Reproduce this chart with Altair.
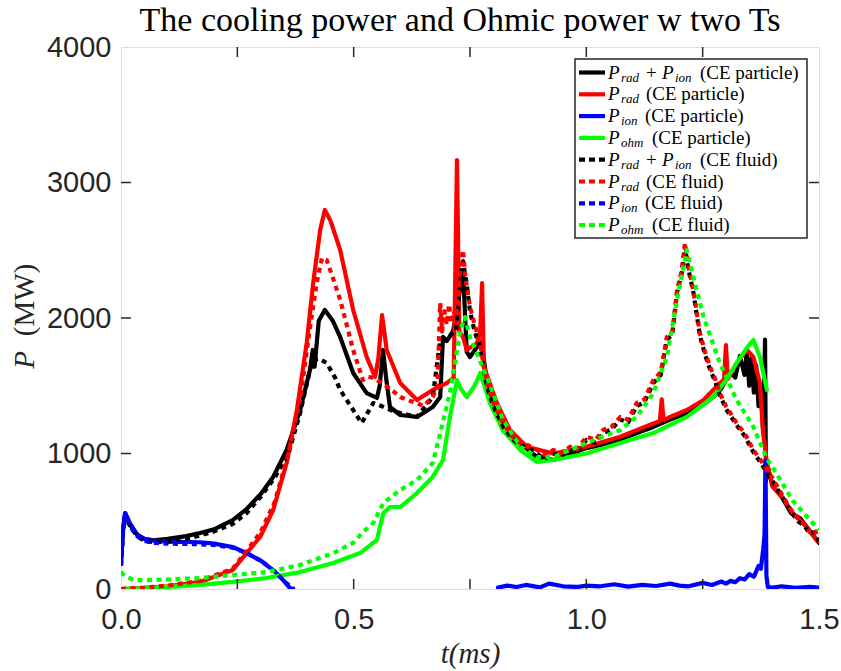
import altair as alt
import pandas as pd

# ---------------- data ----------------
# P_rad + P_ion (CE particle) - black solid
bs_t = [0, 0.004, 0.009, 0.02, 0.035, 0.05, 0.07, 0.1, 0.14, 0.17, 0.2, 0.24, 0.27, 0.3, 0.327, 0.356,
        0.385, 0.406, 0.412, 0.416, 0.425, 0.438, 0.455, 0.471, 0.499, 0.528, 0.55, 0.556, 0.563, 0.57,
        0.578, 0.6, 0.636, 0.67, 0.686, 0.692, 0.70, 0.71, 0.714, 0.722, 0.728, 0.735, 0.743, 0.75,
        0.765, 0.775, 0.785, 0.80, 0.82, 0.858, 0.894, 0.93, 0.96, 1.0, 1.04, 1.07, 1.1, 1.144, 1.18,
        1.216, 1.25, 1.273, 1.29, 1.309, 1.32, 1.33, 1.34, 1.345, 1.35, 1.355, 1.36, 1.365, 1.37,
        1.375, 1.38, 1.384, 1.386, 1.39, 1.40, 1.42, 1.44, 1.46, 1.48, 1.5]
bs_P = [200, 420, 560, 470, 400, 370, 360, 370, 390, 413, 440, 509, 590, 700, 827, 1026,
        1321, 1616, 1764, 1640, 1980, 2059, 1980, 1860, 1594, 1446, 1410, 1500, 1764, 1550,
        1343, 1284, 1270, 1343, 1417, 1860, 1830, 1880, 1911, 2050, 2200, 2350, 1750, 1712,
        1786, 1815, 1565, 1350, 1225, 1077, 974, 952, 990, 1040, 1070, 1100, 1140, 1196, 1250,
        1299, 1360, 1417, 1480, 1600, 1560, 1720, 1580, 1760, 1500, 1700, 1450, 1650, 1350,
        1500, 1150, 1840, 800, 900, 760, 680, 560, 520, 430, 340]

# P_rad (CE particle) - red solid
rs_t = [0, 0.05, 0.1, 0.17, 0.24, 0.27, 0.299, 0.327, 0.356, 0.378, 0.399, 0.413, 0.428, 0.438, 0.45,
        0.471, 0.499, 0.528, 0.546, 0.553, 0.561, 0.571, 0.6, 0.636, 0.67, 0.7, 0.715, 0.722, 0.727,
        0.735, 0.743, 0.765, 0.772, 0.776, 0.78, 0.808, 0.836, 0.872, 0.929, 1.0, 1.073, 1.144,
        1.158, 1.162, 1.166, 1.18, 1.216, 1.252, 1.287, 1.296, 1.30, 1.304, 1.323, 1.345, 1.359,
        1.373, 1.38, 1.388, 1.401, 1.42, 1.444, 1.47, 1.495, 1.5]
rs_P = [0, 8, 20, 52, 140, 265, 384, 583, 930, 1321, 1815, 2258, 2650, 2797, 2720,
        2502, 2059, 1712, 1565, 1700, 2022, 1764, 1520, 1395, 1469, 1520, 1560, 3166, 1900,
        1860, 1764, 1815, 1900, 2258, 1638, 1372, 1173, 1050, 1000, 1050, 1124, 1222,
        1240, 1400, 1245, 1270, 1321, 1395, 1520, 1545, 1800, 1550, 1668, 1764, 1712,
        1520, 1151, 930, 753, 680, 560, 470, 360, 350]

# P_ion (CE particle) - blue solid (None = gap)
bls_t = [0, 0.004, 0.009, 0.02, 0.035, 0.05, 0.062, 0.1, 0.17, 0.2, 0.24, 0.27, 0.3, 0.313, 0.33,
         0.342, 0.355, 0.363, 0.37, 0.375, 0.81, 0.83, 0.85, 0.87, 0.9, 0.92, 0.95, 0.98, 1.0, 1.03,
         1.06, 1.09, 1.12, 1.15, 1.18, 1.2, 1.22, 1.25, 1.27, 1.29, 1.3, 1.31, 1.32, 1.33, 1.34,
         1.35, 1.36, 1.37, 1.375, 1.38, 1.383, 1.385, 1.387, 1.39, 1.40, 1.42, 1.45, 1.48, 1.5]
bls_P = [190, 430, 560, 480, 400, 370, 360, 350, 345, 335, 310, 265, 210, 177, 130,
         89, 40, 7, 0, None, 10, 25, 15, 30, 12, 40, 20, 15, 25, 20,
         35, 18, 30, 22, 40, 25, 20, 45, 30, 55, 40, 60, 50, 80, 70,
         110, 90, 170, 150, 290, 400, 950, 100, 15, 10, 20, 8, 15, 10]

# P_ohm (CE particle) - green solid
gs_t = [0, 0.1, 0.17, 0.24, 0.313, 0.385, 0.456, 0.514, 0.55, 0.558, 0.564, 0.578, 0.6, 0.636, 0.67,
        0.692, 0.707, 0.722, 0.73, 0.743, 0.76, 0.772, 0.793, 0.82, 0.858, 0.894, 0.929, 1.0, 1.073,
        1.144, 1.216, 1.273, 1.3, 1.323, 1.345, 1.359, 1.373, 1.388]
gs_P = [0, 15, 30, 52, 81, 125, 192, 265, 362, 480, 561, 605, 605, 708, 827,
        952, 1270, 1542, 1480, 1417, 1500, 1594, 1372, 1173, 1026, 937, 952, 1000, 1077,
        1151, 1270, 1417, 1540, 1668, 1780, 1838, 1712, 1469]

# P_rad + P_ion (CE fluid) - black dotted
bd_t = [0, 0.004, 0.009, 0.02, 0.035, 0.05, 0.07, 0.1, 0.14, 0.17, 0.2, 0.24, 0.27, 0.3, 0.33, 0.36,
        0.385, 0.405, 0.413, 0.425, 0.442, 0.46, 0.471, 0.499, 0.517, 0.53, 0.542, 0.56, 0.58, 0.6,
        0.636, 0.67, 0.686, 0.70, 0.71, 0.72, 0.73, 0.735, 0.743, 0.75, 0.76, 0.77, 0.786, 0.80,
        0.821, 0.84, 0.858, 0.875, 0.894, 0.91, 0.929, 0.945, 0.965, 0.98, 1.0, 1.02, 1.036, 1.055,
        1.073, 1.09, 1.108, 1.125, 1.144, 1.16, 1.173, 1.185, 1.195, 1.205, 1.212, 1.218, 1.23,
        1.244, 1.255, 1.266, 1.277, 1.287, 1.3, 1.323, 1.34, 1.359, 1.375, 1.388, 1.40, 1.41, 1.42,
        1.43, 1.444, 1.455, 1.47, 1.48, 1.49, 1.5]
bd_P = [170, 400, 540, 460, 390, 355, 345, 350, 370, 395, 425, 480, 560, 680, 820, 1000,
        1300, 1600, 1690, 1700, 1668, 1560, 1469, 1321, 1225, 1300, 1372, 1350, 1320, 1299,
        1270, 1417, 1838, 1850, 1880, 1900, 2300, 2420, 2250, 2050, 1900, 1800, 1500, 1350,
        1200, 1110, 1060, 1040, 1000, 960, 1000, 980, 1030, 1010, 1100, 1080, 1150, 1180,
        1250, 1230, 1350, 1380, 1520, 1580, 1840, 1880, 2190, 2330, 2530, 2380, 2190,
        1870, 1730, 1620, 1530, 1430, 1330, 1210, 1130, 1010, 930, 860, 800, 740, 690,
        620, 550, 500, 460, 410, 420, 350]

# P_rad (CE fluid) - red dotted
rd_t = [0, 0.05, 0.1, 0.17, 0.24, 0.27, 0.3, 0.33, 0.36, 0.385, 0.405, 0.42, 0.432, 0.442, 0.455,
        0.471, 0.485, 0.499, 0.52, 0.53, 0.542, 0.56, 0.578, 0.6, 0.62, 0.636, 0.65, 0.67, 0.68,
        0.686, 0.69, 0.695, 0.70, 0.705, 0.71, 0.715, 0.72, 0.725, 0.73, 0.735, 0.74, 0.75, 0.76,
        0.77, 0.786, 0.80, 0.821, 0.84, 0.858, 0.875, 0.894, 0.91, 0.929, 0.945, 0.965, 0.98, 1.0,
        1.02, 1.036, 1.055, 1.073, 1.09, 1.108, 1.125, 1.144, 1.16, 1.173, 1.185, 1.195, 1.205,
        1.212, 1.218, 1.23, 1.244, 1.255, 1.266, 1.277, 1.287, 1.3, 1.323, 1.34, 1.359, 1.375,
        1.388, 1.40, 1.41, 1.42, 1.43, 1.444, 1.455, 1.47, 1.48, 1.49, 1.5]
rd_P = [0, 10, 25, 60, 150, 280, 420, 640, 1000, 1400, 1900, 2250, 2443, 2428, 2300,
        2133, 1950, 1764, 1542, 1565, 1560, 1520, 1480, 1417, 1390, 1372, 1350, 1417, 1500,
        2110, 1900, 2050, 1950, 2100, 1963, 2050, 2007, 2200, 2400, 2502, 2300, 2081, 1950,
        1838, 1520, 1380, 1225, 1130, 1077, 1060, 1026, 990, 1026, 1000, 1050, 1030, 1124,
        1100, 1173, 1200, 1270, 1250, 1372, 1400, 1542, 1600, 1860, 1900, 2207, 2350,
        2553, 2400, 2207, 1889, 1750, 1638, 1550, 1446, 1350, 1225, 1150, 1026, 950,
        878, 820, 760, 700, 640, 560, 520, 470, 420, 440, 370]

# P_ion (CE fluid) - blue dotted
bld_t = [0, 0.004, 0.009, 0.02, 0.035, 0.05, 0.07, 0.1, 0.17, 0.2, 0.24, 0.27, 0.3, 0.33, 0.35,
         0.365, 0.372]
bld_P = [170, 420, 550, 460, 390, 355, 340, 335, 330, 325, 305, 265, 210, 130, 60, 15, 0]

# P_ohm (CE fluid) - green dotted
gd_t = [0, 0.01, 0.03, 0.06, 0.1, 0.17, 0.24, 0.313, 0.385, 0.456, 0.499, 0.52, 0.542, 0.564, 0.6,
        0.636, 0.67, 0.686, 0.707, 0.729, 0.739, 0.75, 0.786, 0.821, 0.858, 0.894, 0.929, 1.0,
        1.073, 1.108, 1.144, 1.173, 1.195, 1.216, 1.23, 1.252, 1.287, 1.323, 1.359, 1.388, 1.40,
        1.444, 1.5]
gd_P = [125, 90, 66, 66, 70, 81, 103, 125, 177, 265, 340, 420, 487, 635, 731,
        804, 930, 1150, 1450, 1900, 2007, 1860, 1565, 1247, 1050, 974, 974, 1077,
        1173, 1270, 1446, 1712, 2133, 2502, 2303, 2007, 1668, 1395, 1196, 960, 900,
        650, 435]

legend_subs = [["rad", "ion"], ["rad"], ["ion"], ["ohm"], ["rad", "ion"], ["rad"], ["ion"], ["ohm"]]
legend_cases = ["(CE particle)"] * 4 + ["(CE fluid)"] * 4
legend_colors = ["#000000", "#FF0000", "#0000FF", "#00FF00"] * 2

x_ticks = [0.25, 0.5, 0.75, 1.0, 1.25]
x_labels = [0.0, 0.5, 1.0, 1.5]
y_ticks = [0, 1000, 2000, 3000, 4000]

title_text = "The cooling power and Ohmic power w two Ts"

# ---------------- layout ----------------
LEFT, TOP, W, H = 121, 47, 698, 542
AX = "#262626"


def px2t(px):
    return (px - LEFT) / W * 1.5


def py2P(py):
    return (TOP + H - py) / H * 4000


x_enc = alt.X("t:Q", scale=alt.Scale(domain=[0, 1.5], nice=False, zero=False),
              axis=alt.Axis(values=x_labels, format=".1f", ticks=False, domain=False, grid=False,
                            labelFont="Liberation Sans", labelFontSize=29, labelColor=AX,
                            labelPadding=16, labelFlush=False,
                            title="t(ms)", titleFont="Liberation Serif", titleFontSize=29,
                            titleFontStyle="italic", titleFontWeight="normal", titleColor=AX,
                            titlePadding=5))
y_enc = alt.Y("P:Q", scale=alt.Scale(domain=[0, 4000], nice=False),
              axis=alt.Axis(values=y_ticks, format="d", ticks=False, domain=False, grid=False,
                            labelFont="Liberation Sans", labelFontSize=29, labelColor=AX,
                            labelPadding=10, labelFlush=False, title=None))


def line_layer(ts, ps, color, dotted):
    rows, seg = [], 0
    for t, p in zip(ts, ps):
        if p is None:
            seg += 1
            continue
        rows.append({"t": t, "P": p, "seg": seg})
    df = pd.DataFrame(rows)
    mk = dict(color=color, strokeWidth=4.2, clip=True, strokeJoin="round")
    if dotted:
        mk.update(strokeDash=[5, 4.5], strokeCap="butt")
    else:
        mk.update(strokeCap="round")
    return alt.Chart(df).mark_line(**mk).encode(x=x_enc, y=y_enc, detail="seg:N")


layers = [
    line_layer(bs_t, bs_P, "#000000", False),
    line_layer(rs_t, rs_P, "#FF0000", False),
    line_layer(bls_t, bls_P, "#0000FF", False),
    line_layer(gs_t, gs_P, "#00FF00", False),
    line_layer(bd_t, bd_P, "#000000", True),
    line_layer(rd_t, rd_P, "#FF0000", True),
    line_layer(bld_t, bld_P, "#0000FF", True),
    line_layer(gd_t, gd_P, "#00FF00", True),
]

# ticks (inside, on all four sides)
xt = pd.DataFrame({"t": x_ticks})
yt = pd.DataFrame({"P": y_ticks[1:-1]})
tick = dict(color=AX, strokeWidth=1.5)
layers += [
    alt.Chart(xt).mark_rule(**tick).encode(x=x_enc, y=alt.value(H), y2=alt.value(H - 10)),
    alt.Chart(xt).mark_rule(**tick).encode(x=x_enc, y=alt.value(0), y2=alt.value(10)),
    alt.Chart(yt).mark_rule(**tick).encode(y=y_enc, x=alt.value(0), x2=alt.value(10)),
    alt.Chart(yt).mark_rule(**tick).encode(y=y_enc, x=alt.value(W), x2=alt.value(W - 10)),
]

# legend box
box = pd.DataFrame({"t": [px2t(575)], "t2": [px2t(807)], "P": [py2P(59)], "P2": [py2P(238)]})
layers.append(alt.Chart(box).mark_rect(fill="white", stroke=AX, strokeWidth=1.5).encode(
    x=x_enc, x2="t2:Q", y=y_enc, y2="P2:Q"))

# legend entries
samples_solid, samples_dot, big_it, small_it, normal = [], [], [], [], []
after_sub = {"rad": 646, "ion": 645, "ohm": 652}
for i, (subs, case, col) in enumerate(zip(legend_subs, legend_cases, legend_colors)):
    py = 72.5 + 21.8 * i
    row = {"t": px2t(579), "t2": px2t(605), "P": py2P(py), "col": col}
    (samples_solid if i < 4 else samples_dot).append(row)
    big_it.append({"t": px2t(608), "P": py2P(py), "txt": "P"})
    small_it.append({"t": px2t(621), "P": py2P(py + 5), "txt": subs[0]})
    if len(subs) == 2:
        normal.append({"t": px2t(646), "P": py2P(py), "txt": "+"})
        big_it.append({"t": px2t(662), "P": py2P(py), "txt": "P"})
        small_it.append({"t": px2t(675), "P": py2P(py + 5), "txt": subs[1]})
        normal.append({"t": px2t(700), "P": py2P(py), "txt": case})
    else:
        normal.append({"t": px2t(after_sub[subs[0]]), "P": py2P(py), "txt": case})

layers += [
    alt.Chart(pd.DataFrame(samples_solid)).mark_rule(strokeWidth=4.2).encode(
        x=x_enc, x2="t2:Q", y=y_enc, color=alt.Color("col:N", scale=None)),
    alt.Chart(pd.DataFrame(samples_dot)).mark_rule(strokeWidth=4.2, strokeDash=[6, 4]).encode(
        x=x_enc, x2="t2:Q", y=y_enc, color=alt.Color("col:N", scale=None)),
    alt.Chart(pd.DataFrame(big_it)).mark_text(font="Liberation Serif", fontSize=19, fontStyle="italic",
                                               align="left", baseline="middle", color="black").encode(
        x=x_enc, y=y_enc, text="txt:N"),
    alt.Chart(pd.DataFrame(small_it)).mark_text(font="Liberation Serif", fontSize=13, fontStyle="italic",
                                                 align="left", baseline="middle", color="black").encode(
        x=x_enc, y=y_enc, text="txt:N"),
    alt.Chart(pd.DataFrame(normal)).mark_text(font="Liberation Serif", fontSize=19,
                                               align="left", baseline="middle", color="black").encode(
        x=x_enc, y=y_enc, text="txt:N"),
]

# y-axis title as text (italic P, upright unit) and chart title
one = pd.DataFrame({"a": [0]})
layers += [
    alt.Chart(one).mark_text(text="P", font="Liberation Serif", fontSize=29, fontStyle="italic",
                             angle=270, align="center", baseline="middle", color=AX).encode(
        x=alt.value(-96), y=alt.value(313)),
    alt.Chart(one).mark_text(text="(MW)", font="Liberation Serif", fontSize=29,
                             angle=270, align="center", baseline="middle", color=AX).encode(
        x=alt.value(-96), y=alt.value(253)),
    alt.Chart(one).mark_text(text=title_text, font="Liberation Serif", fontSize=34,
                             align="center", baseline="alphabetic", color="black").encode(
        x=alt.value(W / 2 - 10), y=alt.value(-16)),
]

chart = alt.layer(*layers).properties(
    width=W, height=H,
    autosize=alt.AutoSizeParams(type="none"),
    padding={"left": LEFT, "top": TOP, "right": 841 - LEFT - W, "bottom": 671 - TOP - H},
).configure_view(stroke=AX, strokeWidth=1.5).configure(background="white")

chart.save("out.html", embed_options={"renderer": "svg", "actions": False})
